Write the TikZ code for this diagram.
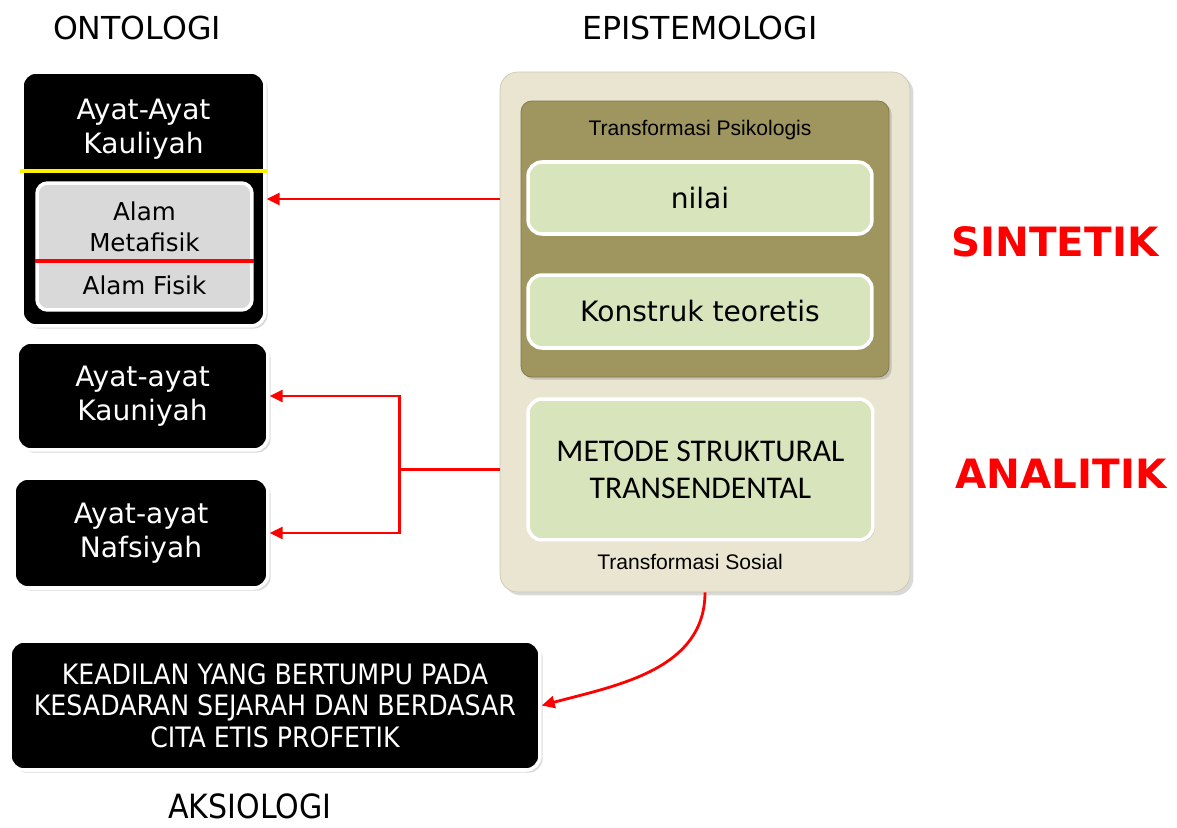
\documentclass[tikz,border=0pt]{standalone}
\usepackage{fontspec}
\setmainfont{DejaVu Sans}
\newfontfamily\arialfont{Liberation Sans}
\newfontfamily\calibrifont{Carlito}
\newfontfamily\narrowfont{DejaVu Sans Condensed}
\usetikzlibrary{arrows.meta, positioning, calc, shadows}
\definecolor{cream}{RGB}{234,229,208}
\definecolor{creamedge}{RGB}{205,200,178}
\definecolor{olive}{RGB}{158,149,95}
\definecolor{palegreen}{RGB}{216,228,188}
\definecolor{softgray}{RGB}{217,217,217}

\begin{document}
\begin{tikzpicture}[x=0.02cm, y=-0.02cm,
  blackbox/.style={draw=white, line width=2pt, fill=black, rounded corners=8pt, text=white, align=center, font=\fontsize{16}{19.5}\selectfont, drop shadow={shadow xshift=1.5pt, shadow yshift=-1.5pt, opacity=0.3}},
  greenbox/.style={draw=white, line width=2pt, fill=palegreen, rounded corners=8pt, align=center, minimum width=6.88cm, drop shadow={shadow xshift=1pt, shadow yshift=-1pt, opacity=0.3}},
  heading/.style={font=\fontsize{18}{22}\selectfont},
  tag/.style={font=\bfseries\fontsize{23}{28}\selectfont, text=red},
  arrow/.style={-{Triangle[length=2.6mm, width=2.4mm]}, red, line width=1.6pt}
]
\useasboundingbox (0,0) rectangle (1177,828);

% headings
\node[heading] (onto) at (137,28) {ONTOLOGI};
\node[heading] (episte) at (700,28) {EPISTEMOLOGI};
\node[font=\narrowfont\fontsize{19}{23}\selectfont] (aksio) at (250,806) {AKSIOLOGI};

% ontologi
\node[blackbox, minimum width=4.86cm, minimum height=5.08cm] (kauliyah) at (143.5,199) {};
\node[text=white, align=center, font=\fontsize{16}{19.5}\selectfont] (kauliyahtxt) at (143.5,129) {Ayat-Ayat\\Kauliyah};
\draw[yellow, line width=2pt] (kauliyah.west |- 0,171) -- (kauliyah.east |- 0,171);
\node[fill=softgray, draw=white, line width=2pt, rounded corners=6pt, minimum width=4.3cm, minimum height=2.54cm] (alam) at (144.5,246.5) {};
\node[align=center, font=\fontsize{14}{17.5}\selectfont] (metafisik) at (144.5,227) {Alam\\Metafisik};
\draw[red, line width=2pt] (alam.west |- 0,261) -- (alam.east |- 0,261);
\node[font=\fontsize{14}{17.5}\selectfont] (fisik) at (144.5,285) {Alam Fisik};

\node[blackbox, minimum width=5.02cm, minimum height=2.16cm] (kauniyah) at (142.5,396) {Ayat-ayat\\Kauniyah};
\node[blackbox, minimum width=5.08cm, minimum height=2.2cm] (nafsiyah) at (141,533) {Ayat-ayat\\Nafsiyah};

% epistemologi
\node[draw=creamedge, fill=cream, rounded corners=10pt, minimum width=8.2cm, minimum height=10.4cm, drop shadow={shadow xshift=2pt, shadow yshift=-2pt, opacity=0.3}] (epi) at (705,332) {};
\node[draw=olive!80!black, fill=olive, rounded corners=6pt, minimum width=7.36cm, minimum height=5.52cm, drop shadow={shadow xshift=1.5pt, shadow yshift=-1.5pt, opacity=0.35}] (psiko) at (705,239) {};
\node[font=\arialfont\fontsize{12}{14}\selectfont] (psikotitle) at (700,130) {Transformasi Psikologis};
\node[greenbox, minimum height=1.44cm, font=\fontsize{16}{19.5}\selectfont] (nilai) at (700,198) {nilai};
\node[greenbox, minimum height=1.46cm, font=\fontsize{16}{19.5}\selectfont] (konstruk) at (700,311.5) {Konstruk teoretis};
\node[greenbox, minimum width=6.9cm, minimum height=2.82cm, font=\calibrifont\fontsize{18}{21}\selectfont] (metode) at (700.5,469.5) {METODE STRUKTURAL\\TRANSENDENTAL};
\node[font=\arialfont\fontsize{12}{14}\selectfont] (sosial) at (690,562) {Transformasi Sosial};

\node[tag] (sintetik) at (1055,242) {SINTETIK};
\node[tag] (analitik) at (1061,474) {ANALITIK};

% aksiologi
\node[blackbox, minimum width=10.6cm, minimum height=2.58cm, font=\narrowfont\fontsize{16}{18}\selectfont] (keadilan) at (275,705.5) {KEADILAN YANG BERTUMPU PADA\\KESADARAN SEJARAH DAN BERDASAR\\CITA ETIS PROFETIK};

% arrows
\draw[arrow] (epi.west |- kauliyah.east) -- (kauliyah.east);
\coordinate (split) at ($(epi.west |- metode)+(-100,0)$);
\draw[red, line width=1.6pt] (epi.west |- metode) -- (split);
\draw[arrow] (split) |- (kauniyah.east);
\draw[arrow] (split) |- (nafsiyah.east);
\draw[arrow] (epi.south) to[out=-90, in=15] (keadilan.east);

\end{tikzpicture}
\end{document}
